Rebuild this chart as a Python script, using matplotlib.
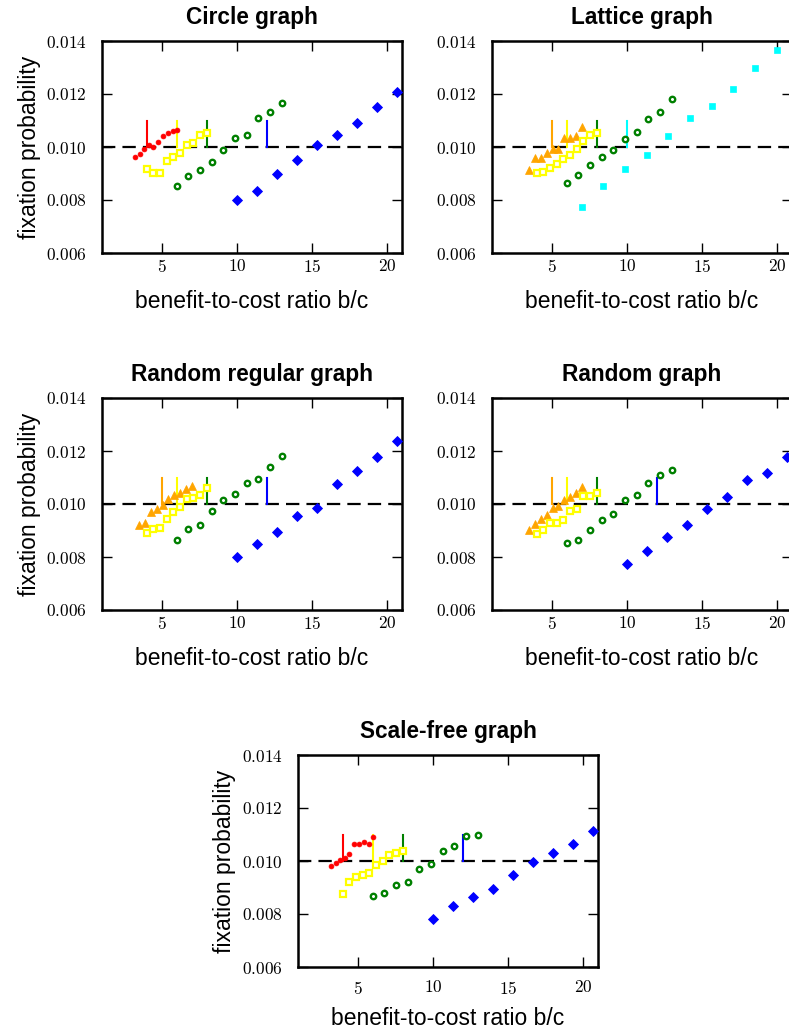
import matplotlib
matplotlib.use("Agg")
import matplotlib.pyplot as plt

plt.rcParams['font.family'] = ['Liberation Sans', 'DejaVu Sans']
plt.rcParams['mathtext.fontset'] = 'cm'

# axis ticks
x_ticks = [5, 10, 15, 20]
x_tick_labels = ['$5$', '$10$', '$15$', '$20$']
y_ticks = [0.006, 0.008, 0.010, 0.012, 0.014]
y_tick_labels = ['$0.006$', '$0.008$', '$0.010$', '$0.012$', '$0.014$']

# shared b/c grids
orange_x = [3.47, 3.87, 4.24, 4.64, 5.04, 5.42, 5.80, 6.20, 6.58, 6.98]
yellow_x = [3.98, 4.42, 4.87, 5.31, 5.76, 6.20, 6.64, 7.09, 7.53, 7.98]
green_x = [5.98, 6.76, 7.53, 8.31, 9.09, 9.87, 10.64, 11.42, 12.20, 12.98]
blue_x = [9.98, 11.31, 12.64, 13.98, 15.31, 16.64, 17.98, 19.31, 20.64]
cyan_x = [6.98, 8.42, 9.87, 11.31, 12.76, 14.20, 15.64, 17.09, 18.53, 19.98]
red_x = [3.18, 3.50, 3.82, 4.10, 4.43, 4.75, 5.05, 5.38, 5.70, 6.00]

# Circle graph
circle_red = [0.00964, 0.00974, 0.00994, 0.01006, 0.00999, 0.01020, 0.01042, 0.01054, 0.01062, 0.01064]
circle_yellow = [0.00916, 0.00903, 0.00903, 0.00948, 0.00964, 0.00976, 0.01008, 0.01016, 0.01047, 0.01052]
circle_green = [0.00854, 0.00889, 0.00915, 0.00943, 0.00990, 0.01035, 0.01044, 0.01109, 0.01133, 0.01167]
circle_blue = [0.00799, 0.00834, 0.00899, 0.00952, 0.01009, 0.01047, 0.01089, 0.01151, 0.01208]
circle_thresholds = [4, 6, 8, 12]

# Lattice graph
lattice_orange = [0.00913, 0.00959, 0.00959, 0.00976, 0.00993, 0.00994, 0.01035, 0.01034, 0.01043, 0.01077]
lattice_yellow = [0.00901, 0.00904, 0.00920, 0.00936, 0.00954, 0.00970, 0.00993, 0.01021, 0.01044, 0.01052]
lattice_green = [0.00865, 0.00893, 0.00931, 0.00962, 0.00990, 0.01029, 0.01058, 0.01107, 0.01132, 0.01181]
lattice_cyan = [0.00772, 0.00852, 0.00916, 0.00970, 0.01040, 0.01111, 0.01156, 0.01218, 0.01299, 0.01367]
lattice_thresholds = [5, 6, 8, 10]

# Random regular graph
regular_orange = [0.00919, 0.00930, 0.00969, 0.00981, 0.00996, 0.01018, 0.01035, 0.01040, 0.01058, 0.01069]
regular_yellow = [0.00889, 0.00906, 0.00909, 0.00943, 0.00969, 0.00988, 0.01018, 0.01024, 0.01035, 0.01059]
regular_green = [0.00863, 0.00904, 0.00919, 0.00973, 0.01016, 0.01039, 0.01080, 0.01096, 0.01139, 0.01183]
regular_blue = [0.00801, 0.00849, 0.00895, 0.00955, 0.00984, 0.01074, 0.01123, 0.01176, 0.01238]
regular_thresholds = [5, 6, 8, 12]

# Random graph
random_orange = [0.00901, 0.00924, 0.00943, 0.00958, 0.00986, 0.00994, 0.01014, 0.01025, 0.01041, 0.01064]
random_yellow = [0.00885, 0.00901, 0.00930, 0.00930, 0.00939, 0.00975, 0.00981, 0.01030, 0.01030, 0.01040]
random_green = [0.00851, 0.00866, 0.00901, 0.00939, 0.00963, 0.01014, 0.01035, 0.01078, 0.01109, 0.01130]
random_blue = [0.00775, 0.00824, 0.00874, 0.00921, 0.00983, 0.01025, 0.01091, 0.01118, 0.01179]
random_thresholds = [5, 6, 8, 12]

# Scale-free graph
sf_red = [0.00983, 0.00994, 0.01004, 0.01013, 0.01028, 0.01065, 0.01063, 0.01071, 0.01063, 0.01091]
sf_yellow = [0.00876, 0.00919, 0.00939, 0.00946, 0.00954, 0.00985, 0.00999, 0.01023, 0.01029, 0.01038]
sf_green = [0.00869, 0.00879, 0.00911, 0.00920, 0.00968, 0.00990, 0.01039, 0.01055, 0.01093, 0.01100]
sf_blue = [0.00781, 0.00830, 0.00863, 0.00893, 0.00948, 0.00995, 0.01029, 0.01066, 0.01115]
sf_thresholds = [4, 6, 8, 12]

# marker styles per series colour
styles = {
    'red': dict(marker='o', ms=3.5, mfc='red', mec='red', mew=0.5),
    'yellow': dict(marker='s', ms=4.3, mfc='white', mec='#ffff00', mew=1.6),
    'green': dict(marker='o', ms=3.9, mfc='white', mec='green', mew=1.7),
    'blue': dict(marker='D', ms=5.0, mfc='blue', mec='blue', mew=0.6),
    'cyan': dict(marker='s', ms=4.9, mfc='#00ffff', mec='#00ffff', mew=0.5),
    'orange': dict(marker='^', ms=6.2, mfc='orange', mec='orange', mew=0.5),
}
line_colors = {'red': 'red', 'yellow': '#ffff00', 'green': 'green',
               'blue': 'blue', 'cyan': '#00ffff', 'orange': 'orange'}


def draw_panel(rect, title, series, thresholds, xpad=3.5, xlab_y=-0.175):
    ax = fig.add_axes(rect)
    ax.axhline(0.010, color='black', lw=1.6, dashes=(6, 3.2), zorder=1)
    for k, c in zip(thresholds, [s[0] for s in series]):
        ax.plot([k, k], [0.010, 0.011], color=line_colors[c], lw=1.5, zorder=2)
    for c, xs, ys in series:
        ax.plot(xs, ys, ls='none', zorder=3, **styles[c])
    ax.set_xlim(1, 21)
    ax.set_ylim(0.006, 0.014)
    ax.set_xticks(x_ticks)
    ax.set_xticklabels(x_tick_labels)
    ax.set_yticks(y_ticks)
    ax.set_yticklabels(y_tick_labels)
    ax.tick_params(direction='in', length=7, width=1, top=True, right=True,
                   labelsize=12.5)
    ax.tick_params(axis='x', pad=xpad)
    ax.tick_params(axis='y', pad=11)
    for sp in ax.spines.values():
        sp.set_linewidth(1.8)
    ax.set_title(title, fontsize=16.3, fontweight='bold', pad=12.5)
    ax.set_xlabel('benefit-to-cost ratio b/c', fontsize=16.5)
    ax.xaxis.set_label_coords(0.5, xlab_y)
    ax.set_ylabel('fixation probability', fontsize=16.5)
    ax.yaxis.set_label_coords(-0.205, 0.5)
    return ax


W, H = 789.0, 1029.0
fig = plt.figure(figsize=(W / 100, H / 100), dpi=100)


def rect(left, top):
    return [left / W, 1 - (top + 212) / H, 300 / W, 212 / H]


draw_panel(rect(102, 41), 'Circle graph',
           [('red', red_x, circle_red), ('yellow', yellow_x, circle_yellow),
            ('green', green_x, circle_green), ('blue', blue_x, circle_blue)],
           circle_thresholds)
ax2 = draw_panel(rect(492, 41), 'Lattice graph',
                 [('orange', orange_x, lattice_orange), ('yellow', yellow_x, lattice_yellow),
                  ('green', green_x, lattice_green), ('cyan', cyan_x, lattice_cyan)],
                 lattice_thresholds)
ax2.set_ylabel('')
draw_panel(rect(102, 398), 'Random regular graph',
           [('orange', orange_x, regular_orange), ('yellow', yellow_x, regular_yellow),
            ('green', green_x, regular_green), ('blue', blue_x, regular_blue)],
           regular_thresholds)
ax4 = draw_panel(rect(492, 398), 'Random graph',
                 [('orange', orange_x, random_orange), ('yellow', yellow_x, random_yellow),
                  ('green', green_x, random_green), ('blue', blue_x, random_blue)],
                 random_thresholds)
ax4.set_ylabel('')
draw_panel(rect(298, 755), 'Scale-free graph',
           [('red', red_x, sf_red), ('yellow', yellow_x, sf_yellow),
            ('green', green_x, sf_green), ('blue', blue_x, sf_blue)],
           sf_thresholds, xpad=9, xlab_y=-0.19)

fig.savefig('out.png', dpi=100)
